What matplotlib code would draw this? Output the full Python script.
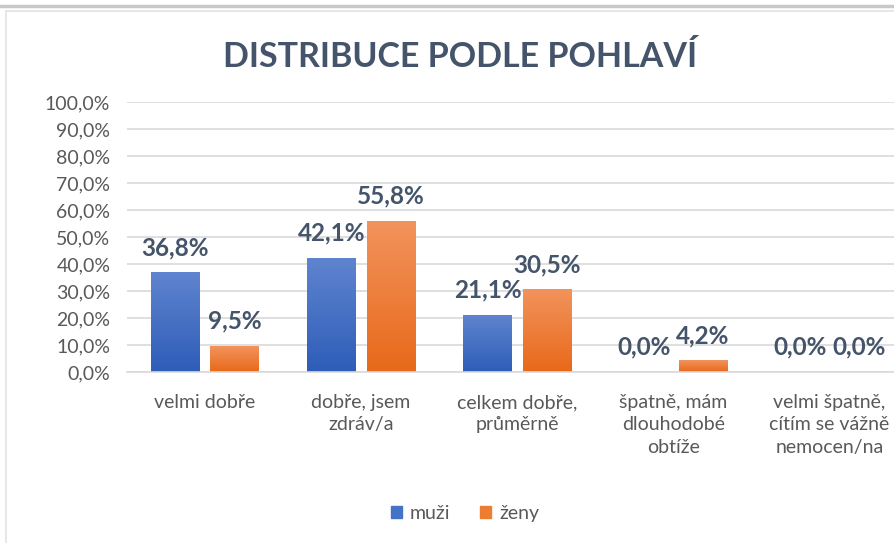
import numpy as np
import matplotlib.pyplot as plt
from matplotlib.colors import LinearSegmentedColormap
from matplotlib.lines import Line2D
from matplotlib.patches import Rectangle

categories = ["velmi dobře", "dobře, jsem\nzdráv/a", "celkem dobře,\nprůměrně",
              "špatně, mám\ndlouhodobé\nobtíže", "velmi špatně,\ncítím se vážně\nnemocen/na"]
muzi = [36.8, 42.1, 21.1, 0.0, 0.0]
zeny = [9.5, 55.8, 30.5, 4.2, 0.0]
series_names = ["muži", "ženy"]

plt.rcParams['font.family'] = ['Lato', 'DejaVu Sans']

fig = plt.figure(figsize=(8.94, 5.43), dpi=100)
ax = fig.add_axes([0.142, 0.315, 0.873, 0.497])

x = np.arange(len(categories))
width = 0.31
offset = 0.19

# gradient colours for the bars (top -> bottom)
blue_cmap = LinearSegmentedColormap.from_list("b", ["#2E5DB8", "#5F84CF"])
orange_cmap = LinearSegmentedColormap.from_list("o", ["#E8691A", "#F2935C"])
grad = np.linspace(0, 1, 100).reshape(-1, 1)

label_style = dict(fontsize=17.5, fontweight="bold", color="#44546A", ha="center", va="center")

for vals, sign, cmap, name in [(muzi, -1, blue_cmap, series_names[0]),
                               (zeny, 1, orange_cmap, series_names[1])]:
    bars = ax.bar(x + sign * offset, vals, width, color="none", label=name)
    for b, v in zip(bars, vals):
        if v > 0:
            ax.imshow(grad, cmap=cmap, origin="lower", aspect="auto", zorder=2,
                      extent=[b.get_x(), b.get_x() + b.get_width(), 0, v])
        ax.annotate(f"{v:.1f}%".replace(".", ","), (b.get_x() + b.get_width() / 2, v),
                    xytext=(0, 25), textcoords="offset pixels", **label_style)

ax.set_xlim(-0.5, len(categories) - 0.5)
ax.set_ylim(0, 100)
ax.set_yticks(np.arange(0, 101, 10))
ax.set_yticklabels([f"{t:.1f}%".replace(".", ",") for t in np.arange(0, 101, 10)])
ax.set_xticks(x)
ax.set_xticklabels(categories, linespacing=1.38)
ax.tick_params(axis="both", length=0, labelsize=14, colors="#595959")
ax.tick_params(axis="x", pad=16)
ax.tick_params(axis="y", pad=12)
ax.grid(axis="y", color="#D9D9D9", linewidth=1.2, zorder=0)
ax.set_axisbelow(True)
for s in ["top", "right", "left"]:
    ax.spines[s].set_visible(False)
ax.spines["bottom"].set_color("#D9D9D9")
ax.spines["bottom"].set_linewidth(1.2)

fig.text(0.515, 0.895, "DISTRIBUCE PODLE POHLAVÍ", ha="center", va="center",
         fontsize=24.5, fontweight="bold", color="#44546A")

handles = [Rectangle((0, 0), 1, 1, color="#4472C4"), Rectangle((0, 0), 1, 1, color="#ED7D31")]
fig.legend(handles, series_names, loc="center", bbox_to_anchor=(0.52, 0.055), ncol=2,
           frameon=False, fontsize=14, handlelength=0.6, handleheight=0.6,
           columnspacing=1.5, handletextpad=0.4, labelcolor="#595959")

# screenshot frame lines
fig.add_artist(Line2D([0, 1], [1 - 6 / 543, 1 - 6 / 543], color="#C8C8C8", linewidth=2.5))
fig.add_artist(Line2D([6 / 894, 1], [1 - 11 / 543, 1 - 11 / 543], color="#E3E3E3", linewidth=1.2))
fig.add_artist(Line2D([6 / 894, 6 / 894], [0, 1 - 11 / 543], color="#E3E3E3", linewidth=1.2))

fig.savefig("out.png", dpi=100)
